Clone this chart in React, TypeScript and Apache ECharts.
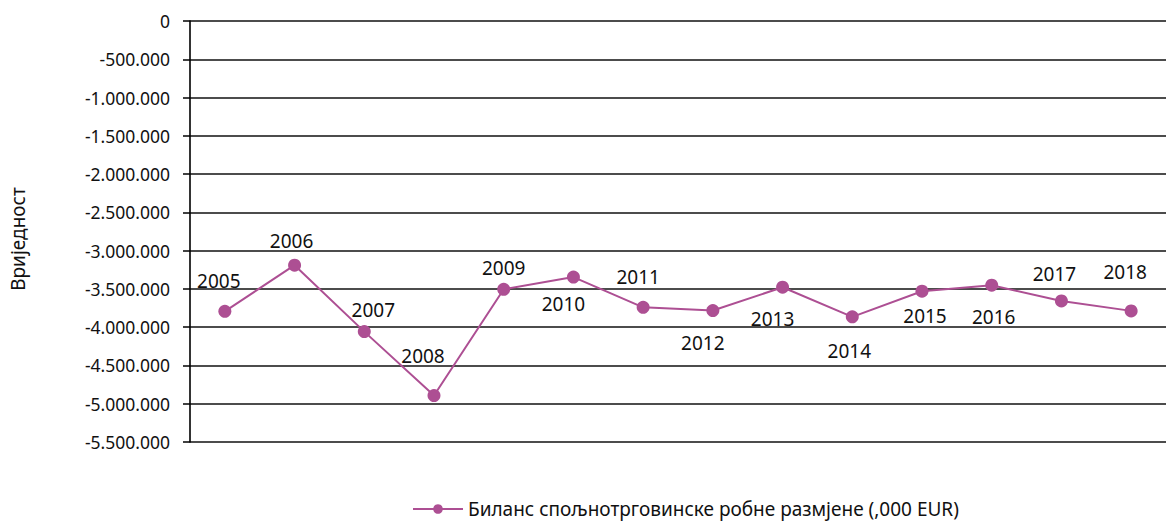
import React, { useEffect, useRef } from "react";
import * as echarts from "echarts";

const years = ["2005","2006","2007","2008","2009","2010","2011","2012","2013","2014","2015","2016","2017","2018"];
const balance = [-3793000,-3190000,-4058000,-4893000,-3505000,-3345000,-3741000,-3783000,-3478000,-3865000,-3530000,-3452000,-3657000,-3787000];
const labelOffsets: [number, number][] = [[-6,-30],[-3,-24],[9,-22],[-11,-40],[0,-21],[-10,27],[-5,-30],[-10,32],[-10,32],[-3,34],[3,25],[2,32],[-7,-27],[-6,-39]];
const seriesName = "Биланс спољнотрговинске робне размјене (,000 EUR)";
const axisTitle = "Вриједност";

const fmt = (v: number) => {
  const s = Math.abs(v).toString().replace(/\B(?=(\d{3})+(?!\d))/g, ".");
  return (v < 0 ? "-" : "") + s;
};

const FONT = "'Noto Sans', sans-serif";
const COLOR = "#AD4F93";

export default function App() {
  const ref = useRef<HTMLDivElement>(null);
  useEffect(() => {
    document.body.style.margin = "0";
    const chart = echarts.init(ref.current!, null, { renderer: "svg" });
    chart.setOption({
      animation: false,
      backgroundColor: "#fff",
      textStyle: { fontFamily: FONT },
      grid: { left: 190, top: 21, width: 984, height: 421, containLabel: false },
      xAxis: {
        type: "category",
        data: years,
        boundaryGap: true,
        axisLine: { show: false },
        axisTick: { show: false },
        axisLabel: { show: false },
        splitLine: { show: false },
      },
      yAxis: {
        type: "value",
        min: -5500000,
        max: 0,
        interval: 500000,
        axisLine: { show: true, lineStyle: { color: "#000", width: 1.6 } },
        axisTick: { show: true, length: 7, lineStyle: { color: "#000", width: 1.5 } },
        axisLabel: { color: "#111", fontSize: 17.5, margin: 20, fontFamily: FONT, formatter: (v: number) => fmt(v) },
        splitLine: { show: true, lineStyle: { color: "#111", width: 1.5 } },
      },
      legend: {
        show: true,
        left: 412,
        top: 499,
        padding: 0,
        itemWidth: 50,
        itemHeight: 12,
        itemGap: 10,
        textStyle: { fontSize: 19, lineHeight: 20, color: "#111", fontFamily: FONT, padding: [0, 0, 0, 0] },
        data: [{ name: seriesName }],
      },
      graphic: [
        {
          type: "text",
          x: 18,
          y: 239,
          rotation: Math.PI / 2,
          style: { text: axisTitle, fontSize: 19, fontFamily: FONT, fill: "#111", align: "center", verticalAlign: "middle" },
        },
      ],
      series: [
        {
          type: "line",
          name: seriesName,
          data: balance.map((v, i) => ({
            value: v,
            label: { offset: labelOffsets[i] },
          })),
          symbol: "circle",
          symbolSize: 13,
          lineStyle: { color: COLOR, width: 2 },
          itemStyle: { color: COLOR },
          label: {
            show: true,
            position: "inside",
            formatter: "{b}",
            fontSize: 19,
            color: "#111",
            fontFamily: FONT,
          },
        },
      ],
    });
    return () => chart.dispose();
  }, []);
  return <div ref={ref} style={{ width: 1166, height: 523 }} />;
}
